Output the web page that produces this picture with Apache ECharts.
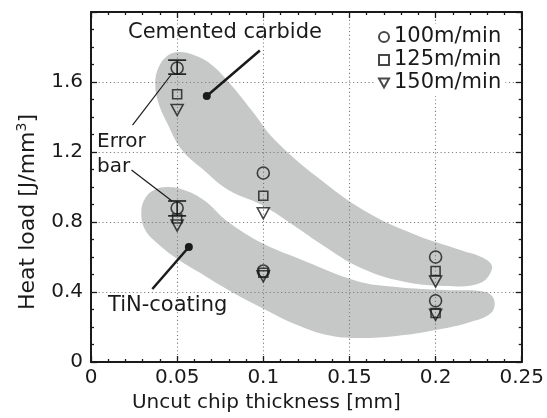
<!DOCTYPE html>
<html>
<head>
<meta charset="utf-8">
<script src="https://cdn.jsdelivr.net/npm/echarts@6/dist/echarts.min.js"></script>
<style>
  html, body { margin: 0; padding: 0; background: #fff; }
  #chart { width: 547px; height: 418px; }
</style>
</head>
<body>
<div id="chart"></div>
<script>
  // uncut chip thickness [mm]
  var xs = [0.05, 0.1, 0.2];
  // heat load [J/mm3], cemented carbide
  var carbide100 = [1.68, 1.08, 0.60];
  var carbide125 = [1.53, 0.95, 0.52];
  var carbide150 = [1.44, 0.85, 0.46];
  // heat load [J/mm3], TiN-coating
  var tin100 = [0.88, 0.52, 0.35];
  var tin125 = [0.82, 0.51, 0.28];
  var tin150 = [0.78, 0.49, 0.27];
  // error bars (100 m/min at 0.05 mm)
  var errX = [0.05, 0.05];
  var errLow = [1.645, 0.835];
  var errHigh = [1.725, 0.92];
  var speeds = ['100m/min', '125m/min', '150m/min'];

  // grey regions, outline in data units
  var carbideOutline = [
    [0.0373, 1.60], [0.0396, 1.691], [0.0442, 1.749], [0.051, 1.771], [0.0596, 1.754],
    [0.0694, 1.703], [0.0808, 1.589], [0.094, 1.429], [0.1067, 1.269], [0.1313, 1.057],
    [0.16, 0.857], [0.1886, 0.726], [0.2144, 0.64], [0.2288, 0.589], [0.2328, 0.537],
    [0.2259, 0.451], [0.2058, 0.434], [0.1772, 0.469], [0.1542, 0.549], [0.137, 0.651],
    [0.1198, 0.766], [0.0992, 0.897], [0.0797, 0.983], [0.0654, 1.097], [0.0528, 1.211],
    [0.0442, 1.366], [0.039, 1.486]
  ];
  var tinOutline = [
    [0.0292, 0.857], [0.0315, 0.937], [0.0367, 0.983], [0.0442, 1.0], [0.0539, 0.983],
    [0.0654, 0.926], [0.0797, 0.80], [0.0992, 0.68], [0.1198, 0.594], [0.1542, 0.463],
    [0.1772, 0.429], [0.2058, 0.411], [0.2288, 0.40], [0.234, 0.354], [0.2322, 0.28],
    [0.2202, 0.229], [0.2001, 0.183], [0.1772, 0.149], [0.1542, 0.137], [0.137, 0.154],
    [0.1198, 0.211], [0.0992, 0.309], [0.0797, 0.411], [0.0625, 0.514], [0.051, 0.583],
    [0.0396, 0.669], [0.0315, 0.754]
  ];
  // pointer lines
  var carbidePointer = [[0.098, 1.78], [0.0672, 1.52]];
  var tinPointer = [[0.0356, 0.417], [0.0568, 0.657]];
  var errPointerTop = [[0.0241, 1.354], [0.0464, 1.64]];
  var errPointerLow = [[0.0235, 1.097], [0.047, 0.92]];

  var font = 'DejaVu Sans';
  var ink = '#1a1a1a';
  var downTriangle = 'path://M0,0L10,0L5,9Z';

  function pairs(vals) {
    return xs.map(function (x, i) { return [x, vals[i]]; });
  }

  function blob(outline) {
    return {
      type: 'custom',
      silent: true,
      z: -1,
      data: outline,
      encode: { x: 0, y: 1 },
      renderItem: function (params, api) {
        if (params.dataIndex !== 0) return;
        var pts = outline.map(function (p) { return api.coord(p); });
        return {
          type: 'polygon',
          shape: { points: pts, smooth: 0.4 },
          style: { fill: '#c6c7c7' }
        };
      }
    };
  }

  function pointer(pts, width, dot) {
    return {
      type: 'line',
      silent: true,
      z: 5,
      data: [
        { value: pts[0], symbol: 'none' },
        { value: pts[1], symbol: dot ? 'circle' : 'none', symbolSize: 8 }
      ],
      lineStyle: { color: ink, width: width },
      itemStyle: { color: ink, borderWidth: 0 }
    };
  }

  var markerStyle = { color: 'transparent', borderColor: ink, borderWidth: 1.6 };
  var gridStyle = { color: '#7a7a7a', width: 1.1, type: [1.1, 2.7] };
  var tickStyle = { color: ink, width: 1.3 };

  function frameAxis(pos, isX) {
    return {
      type: 'value',
      position: pos,
      min: 0,
      max: isX ? 0.25 : 2,
      interval: isX ? 0.05 : 0.4,
      axisLine: { show: true, onZero: false, lineStyle: { color: ink, width: 2 } },
      axisTick: { show: true, inside: true, length: 6, lineStyle: tickStyle },
      minorTick: { show: true, splitNumber: isX ? 5 : 4, length: 3, lineStyle: tickStyle },
      axisLabel: { show: false },
      splitLine: { show: false }
    };
  }

  var xMain = frameAxis('bottom', true);
  xMain.axisLabel = { show: true, fontFamily: font, fontSize: 20, color: ink, margin: 6 };
  xMain.splitLine = { show: true, lineStyle: gridStyle };
  xMain.name = 'Uncut chip thickness [mm]';
  xMain.nameLocation = 'middle';
  xMain.nameGap = 29;
  xMain.nameTextStyle = { fontFamily: font, fontSize: 20, color: ink, padding: [0, 80, 0, 0] };
  var xTop = frameAxis('top', true);

  var yMain = frameAxis('left', false);
  yMain.axisLabel = {
    show: true, fontFamily: font, fontSize: 20, color: ink, margin: 8,
    formatter: function (v) { return v >= 2 ? '' : String(v); }
  };
  yMain.splitLine = { show: true, lineStyle: gridStyle };
  yMain.name = 'Heat load [J/mm{sup|3}]';
  yMain.nameLocation = 'middle';
  yMain.nameGap = 50;
  yMain.nameTextStyle = {
    fontFamily: font, fontSize: 22, color: ink, padding: [0, 50, 0, 0],
    rich: { sup: { fontFamily: font, fontSize: 14, color: ink, padding: [0, 0, 12, 0] } }
  };
  var yRight = frameAxis('right', false);

  var chart = echarts.init(document.getElementById('chart'), null, { renderer: 'canvas' });
  chart.setOption({
    animation: false,
    backgroundColor: '#fff',
    grid: { left: 91, right: 22, top: 12, bottom: 56, containLabel: false },
    xAxis: [xMain, xTop],
    yAxis: [yMain, yRight],
    legend: {
      data: speeds,
      orient: 'vertical',
      left: 376,
      top: 24,
      itemWidth: 10,
      itemHeight: 10,
      itemGap: 1,
      padding: [2, 4, 2, 2],
      backgroundColor: '#fff',
      textStyle: { fontFamily: font, fontSize: 21, color: ink, lineHeight: 22 }
    },
    graphic: [
      { type: 'text', left: 128, top: 22, style: { text: 'Cemented carbide', font: '21px "DejaVu Sans"', fill: ink } },
      { type: 'text', left: 97, top: 129, style: { text: 'Error\nbar', font: '20px "DejaVu Sans"', fill: ink, lineHeight: 25 } },
      { type: 'text', left: 108, top: 295, style: { text: 'TiN-coating', font: '21px "DejaVu Sans"', fill: ink } }
    ],
    series: [
      blob(carbideOutline),
      blob(tinOutline),
      pointer(carbidePointer, 2.5, true),
      pointer(tinPointer, 2.5, true),
      pointer(errPointerTop, 1.2, false),
      pointer(errPointerLow, 1.2, false),
      {
        type: 'custom',
        silent: true,
        z: 4,
        data: errX.map(function (x, i) { return [x, errLow[i], errHigh[i]]; }),
        encode: { x: 0, y: [1, 2] },
        renderItem: function (params, api) {
          var lo = api.coord([api.value(0), api.value(1)]);
          var hi = api.coord([api.value(0), api.value(2)]);
          var w = 9;
          var st = { stroke: ink, lineWidth: 1.6 };
          return {
            type: 'group',
            children: [
              { type: 'line', shape: { x1: lo[0], y1: lo[1], x2: hi[0], y2: hi[1] }, style: st },
              { type: 'line', shape: { x1: lo[0] - w, y1: lo[1], x2: lo[0] + w, y2: lo[1] }, style: st },
              { type: 'line', shape: { x1: hi[0] - w, y1: hi[1], x2: hi[0] + w, y2: hi[1] }, style: st }
            ]
          };
        }
      },
      {
        name: speeds[0], type: 'scatter', symbol: 'circle', symbolSize: 12, z: 6,
        itemStyle: markerStyle,
        data: pairs(carbide100).concat(pairs(tin100))
      },
      {
        name: speeds[1], type: 'scatter', symbol: 'rect', symbolSize: 9, z: 6,
        itemStyle: markerStyle,
        data: pairs(carbide125).concat(pairs(tin125))
      },
      {
        name: speeds[2], type: 'scatter', symbol: downTriangle, symbolSize: [12, 11], z: 6,
        itemStyle: markerStyle,
        data: pairs(carbide150).concat(pairs(tin150))
      }
    ]
  });
</script>
</body>
</html>
